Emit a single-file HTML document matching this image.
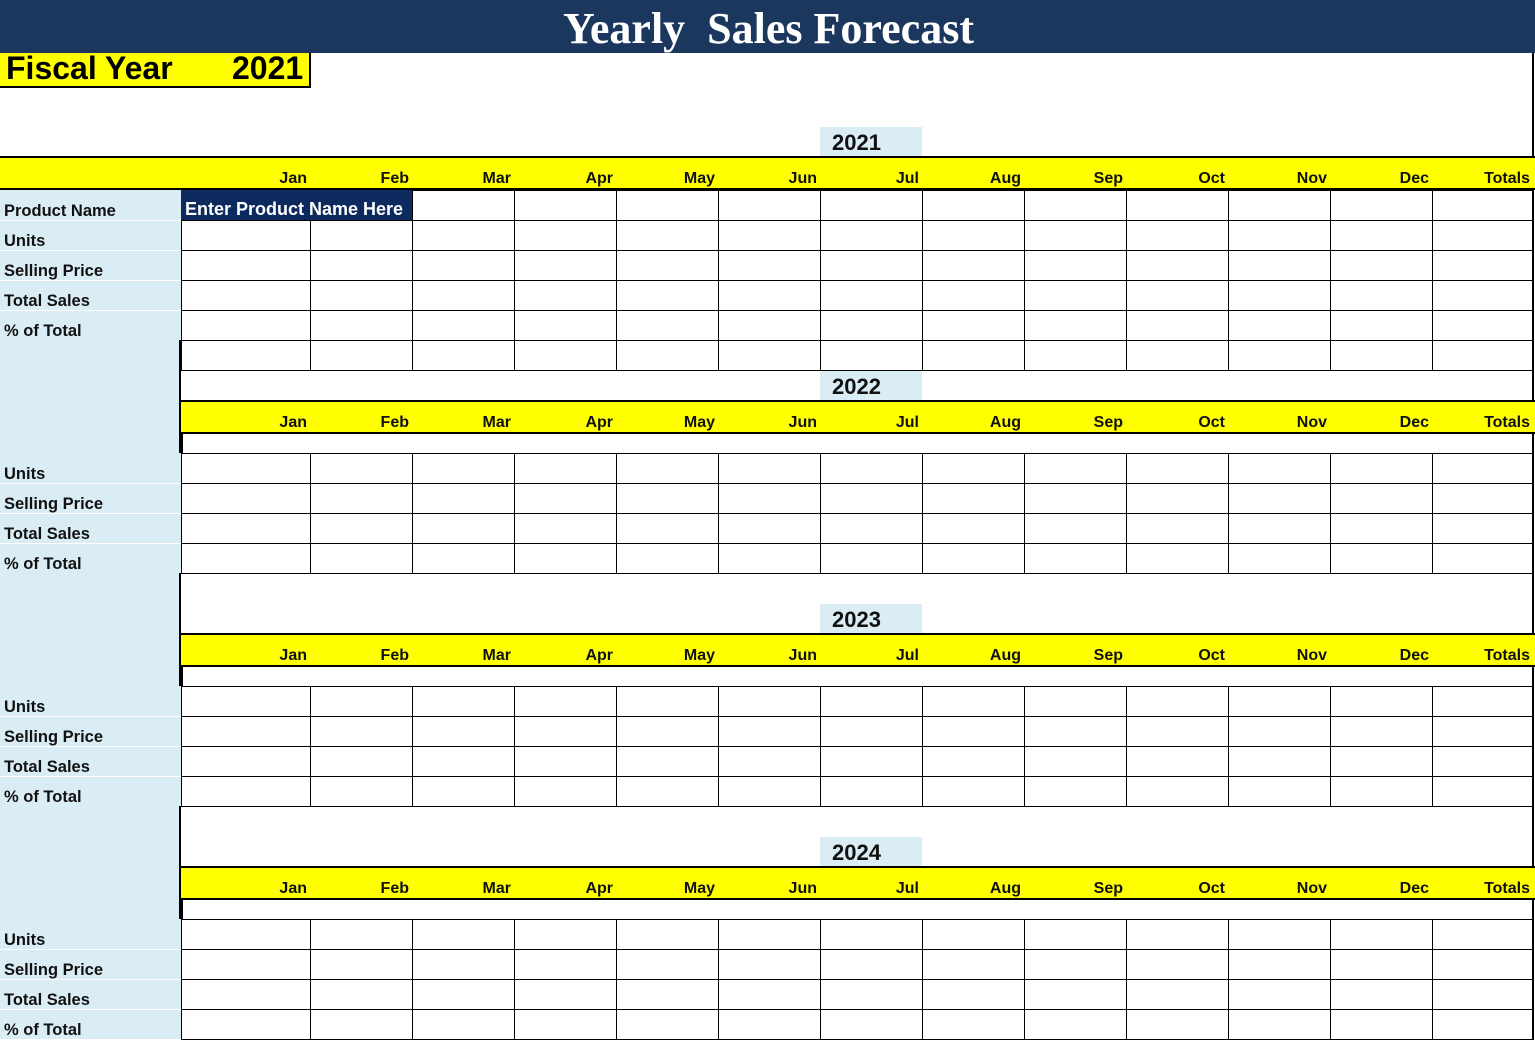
<!DOCTYPE html>
<html><head><meta charset="utf-8"><style>
body{margin:0;width:1535px;height:1040px;background:#fff;position:relative;overflow:hidden;font-family:"Liberation Sans",Arial,sans-serif}
.a{position:absolute;box-sizing:border-box}
.t{font-weight:bold;font-size:16px;color:#111;white-space:nowrap}
.rl{font-size:16.5px}
</style></head><body>
<div class="a" style="left:0;top:0;width:1535px;height:53px;background:#1b375d;color:#fff;font-family:'Liberation Serif',serif;font-weight:bold;font-size:44px;text-align:center;line-height:58px;padding-left:2px">Yearly&nbsp; Sales Forecast</div>
<div class="a" style="left:0;top:53px;width:311px;height:35px;background:#ffff00;border-right:2px solid #000;border-bottom:2px solid #000;font-weight:bold;font-size:32px;line-height:30px;padding-left:6px">Fiscal Year<span style="position:absolute;left:232px">2021</span></div>
<div class="a" style="left:1532px;top:53px;width:2px;height:987px;background:#000"></div>
<div id="root"></div>
<script>
const months=["Jan","Feb","Mar","Apr","May","Jun","Jul","Aug","Sep","Oct","Nov","Dec","Totals"];
const years=["2021","2022","2023","2024"];
const rowLabels=["Units","Selling Price","Total Sales","% of Total"];
const cols=[181,310,412,514,616,718,820,922,1024,1126,1228,1330,1432,1533];
const secTop=[127,371,604,837];
const root=document.getElementById('root');
function box(x,y,w,h,st,name,txt){const d=document.createElement('div');d.className='a';d.style.cssText=`left:${x}px;top:${y}px;width:${w}px;height:${h}px;`+st;


if(txt!==undefined)d.textContent=txt;root.appendChild(d);return d;}
function grid(y0,n){for(let r=0;r<n;r++){const y=y0+r*30;for(let c=0;c<13;c++){const d=box(cols[c],y,cols[c+1]-cols[c]+1,31,'border:1px solid #000;','cell');}}}
years.forEach((yr,i)=>{
 const t=secTop[i];
 box(820,t,102,29,'background:#daedf4;padding-left:12px;line-height:32px;','year-label','').innerHTML='<span class="t" style="font-size:22px">'+yr+'</span>';
 box(i==0?0:181,t+29,1535-(i==0?0:181),34,'background:#ffff00;border-top:2px solid #000;border-bottom:2px solid #000;','month-header-band');
 months.forEach((m,c)=>{box(cols[c],t+43,cols[c+1]-cols[c]-3,18,'text-align:right;line-height:18px;','month-label','').innerHTML='<span class="t">'+m+'</span>';});
 let gy;
 if(i==0){gy=t+63;
  box(0,gy,181,180,'background:#daedf4;','label-column');
  grid(gy,6);
  const p=box(181,gy,231,30,'background:#0d2a5e;color:#fff;font-weight:bold;font-size:18px;line-height:38px;padding-left:4px;white-space:nowrap;overflow:hidden;','product-name-input','Enter Product Name Here');
  ["Product Name",...rowLabels].forEach((l,k)=>box(0,gy+k*30,181,31,'border-bottom:1px solid #fff;padding-left:4px;line-height:42px;','row-label','').innerHTML='<span class="t rl">'+l+'</span>');
 } else {
  box(0,t-31,181,113,'background:#daedf4;border-right:2px solid #000;','label-spacer');
  gy=t+82;
  box(181,t+63,1352,20,'border-left:2px solid #000;','blank-row');
  box(0,gy,181,120,'background:#daedf4;','label-column');
  grid(gy,4);
  rowLabels.forEach((l,k)=>box(0,gy+k*30,181,31,'border-bottom:1px solid #fff;padding-left:4px;line-height:42px;','row-label','').innerHTML='<span class="t rl">'+l+'</span>');
 }
});
</script>
</body></html>
